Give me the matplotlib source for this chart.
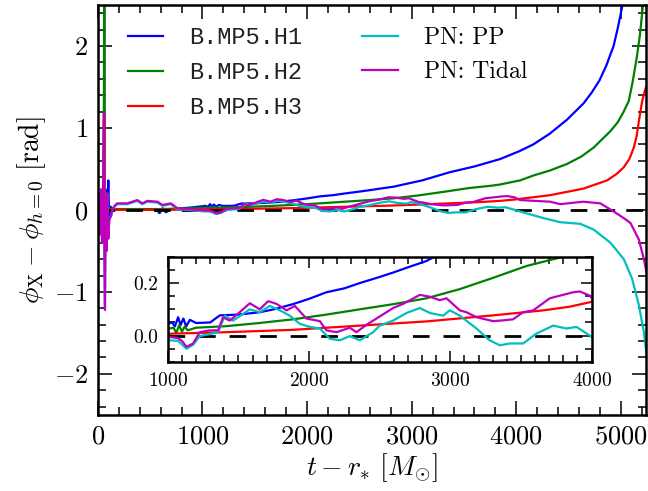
import numpy as np
import matplotlib.pyplot as plt
from matplotlib.ticker import MultipleLocator

plt.rcParams['font.family'] = 'serif'
plt.rcParams['font.serif'] = ['cmr10']
plt.rcParams['mathtext.fontset'] = 'cm'
plt.rcParams['axes.formatter.use_mathtext'] = True
plt.rcParams['axes.unicode_minus'] = True

# phase differences (t - r_* in M_sun, phi in rad)
t_h1 = [0, 15, 30, 45, 60, 75, 88, 100, 108, 120, 150, 250, 400, 560, 590, 620, 650, 700,
        800, 900, 1000, 1030, 1050, 1073, 1090, 1110, 1130, 1156, 1200, 1300, 1368, 1500,
        1651, 1750, 1887, 2000, 2123, 2250, 2359, 2480, 2595, 2700, 2831, 2886, 3100, 3365,
        3600, 3845, 4036, 4164, 4320, 4484, 4643, 4720, 4795, 4860, 4930, 4970, 5015, 5030]
phi_h1 = [0, 0.15, -0.1, 0.2, -0.05, 0.25, -0.15, 0.36, -0.12, 0.04, 0.01, 0.01, 0.01, 0.0,
          -0.04, 0.02, -0.03, 0.01, 0.02, 0.03, 0.045, 0.05, 0.035, 0.07, 0.04, 0.065, 0.035,
          0.06, 0.048, 0.05, 0.077, 0.08, 0.089, 0.10, 0.12, 0.14, 0.165, 0.18, 0.20, 0.22,
          0.24, 0.26, 0.284, 0.30, 0.36, 0.46, 0.53, 0.62, 0.72, 0.80, 0.93, 1.10, 1.30, 1.43,
          1.58, 1.76, 2.0, 2.22, 2.5, 2.7]

t_h2 = [0, 20, 40, 55, 62, 68, 80, 95, 110, 130, 160, 300, 600, 900, 1000, 1040, 1060, 1080,
        1100, 1120, 1140, 1200, 1415, 1650, 1887, 2123, 2359, 2600, 2831, 3067, 3303, 3539,
        3775, 3845, 4036, 4164, 4320, 4484, 4620, 4739, 4899, 4970, 5027, 5075, 5110, 5150,
        5180, 5211, 5230]
phi_h2 = [0, 0.1, -0.05, 0.15, 3.0, 0.1, 0.2, 0.05, 0.02, 0.01, 0.01, 0.01, 0.01, 0.02, 0.026,
          0.03, 0.01, 0.04, 0.015, 0.035, 0.02, 0.03, 0.036, 0.048, 0.062, 0.08, 0.10, 0.12,
          0.142, 0.177, 0.22, 0.265, 0.297, 0.31, 0.36, 0.42, 0.48, 0.56, 0.65, 0.76, 0.96,
          1.07, 1.20, 1.33, 1.55, 1.85, 2.12, 2.5, 2.8]

t_h3 = [0, 30, 50, 58, 62, 66, 75, 100, 150, 400, 800, 1000, 1415, 1887, 2359, 2831, 3303,
        3657, 3845, 3987, 4324, 4643, 4868, 4960, 5027, 5080, 5123, 5150, 5171, 5203, 5240]
phi_h3 = [0, 0.05, -0.05, 0.3, 1.15, 0.1, 0.0, 0.01, 0.0, 0.0, 0.003, 0.007, 0.013, 0.022,
          0.038, 0.054, 0.077, 0.096, 0.11, 0.127, 0.18, 0.26, 0.36, 0.44, 0.52, 0.62, 0.76,
          0.9, 1.08, 1.33, 1.5]

t_pp = [0, 10, 20, 30, 40, 50, 58, 63, 68, 75, 82, 90, 100, 110, 125, 140, 160, 185, 281, 377,
        425, 473, 569, 617, 697, 761, 857, 950, 1014, 1073, 1132, 1179, 1226, 1290, 1356, 1403,
        1462, 1580, 1651, 1722, 1793, 1863, 1934, 2005, 2076, 2147, 2217, 2288, 2359, 2453,
        2500, 2595, 2689, 2784, 2855, 2949, 2996, 3067, 3185, 3279, 3350, 3421, 3515, 3610,
        3728, 3822, 3893, 3987, 4036, 4260, 4420, 4612, 4739, 4899, 5027, 5107, 5171, 5219, 5245]
phi_pp = [0, 0.2, -0.3, 0.25, -0.4, 0.3, 1.1, -0.6, -1.15, 0.1, -0.5, 0.2, -0.35, -0.1, -0.08,
          0.0, 0.04, 0.07, 0.07, 0.11, 0.07, 0.10, 0.09, 0.05, 0.07, 0.01, 0.0, -0.01, -0.018,
          -0.02, -0.05, -0.035, -0.002, 0.005, 0.013, 0.076, 0.057, 0.10, 0.089, 0.113, 0.096,
          0.076, 0.045, 0.033, 0.027, -0.012, -0.018, -0.002, -0.018, 0.013, 0.038, 0.057,
          0.086, 0.105, 0.086, 0.076, 0.096, 0.076, 0.027, -0.018, -0.037, -0.03, -0.03, 0.008,
          0.038, 0.027, 0.033, 0.0, -0.02, -0.10, -0.15, -0.17, -0.24, -0.40, -0.60, -0.84,
          -1.16, -1.49, -1.77]

t_tidal = [0, 10, 20, 30, 40, 50, 58, 63, 68, 75, 82, 90, 100, 110, 125, 140, 160, 185, 281,
           377, 425, 473, 569, 617, 697, 761, 857, 950, 1014, 1073, 1100, 1132, 1179, 1226,
           1297, 1356, 1391, 1438, 1509, 1580, 1651, 1710, 1769, 1840, 1899, 1981, 2076, 2123,
           2194, 2288, 2335, 2406, 2477, 2595, 2666, 2784, 2855, 2925, 2973, 3067, 3114, 3185,
           3303, 3374, 3444, 3515, 3586, 3704, 3775, 3869, 3917, 3987, 4036, 4324, 4420, 4640,
           4803, 4931, 5027, 5091, 5171, 5219, 5245]
phi_tidal = [0, 0.2, -0.3, 0.25, -0.4, 0.3, 1.18, -0.6, -1.22, 0.1, -0.5, 0.2, -0.35, -0.1,
             -0.08, 0.0, 0.05, 0.08, 0.08, 0.12, 0.08, 0.11, 0.10, 0.06, 0.08, 0.02, 0.01, 0.0,
             -0.005, -0.01, -0.02, -0.043, -0.03, 0.013, 0.02, 0.02, 0.07, 0.057, 0.089, 0.123,
             0.10, 0.131, 0.121, 0.096, 0.113, 0.065, 0.055, 0.02, 0.013, 0.03, 0.013, 0.041,
             0.065, 0.105, 0.121, 0.155, 0.148, 0.135, 0.142, 0.096, 0.089, 0.07, 0.055, 0.058,
             0.062, 0.089, 0.096, 0.142, 0.152, 0.165, 0.168, 0.152, 0.12, 0.10, 0.07, 0.10,
             0.08, -0.02, -0.10, -0.16, -0.36, -0.60, -0.76]

series = [
    (t_h1, phi_h1, 'b', 'B.MP5.H1'),
    (t_h2, phi_h2, 'g', 'B.MP5.H2'),
    (t_h3, phi_h3, 'r', 'B.MP5.H3'),
    (t_pp, phi_pp, 'c', 'PN: PP'),
    (t_tidal, phi_tidal, 'm', 'PN: Tidal'),
]


def style_axes(ax, lw_spine, maj, mnr, size):
    for s in ax.spines.values():
        s.set_linewidth(lw_spine)
    ax.tick_params(which='both', direction='in', top=True, right=True, labelsize=size, pad=7)
    ax.tick_params(which='major', length=maj, width=1.1)
    ax.tick_params(which='minor', length=mnr, width=1.1)


fig = plt.figure(figsize=(6.48, 4.91), dpi=100)
ax = fig.add_axes([0.151, 0.155, 0.846, 0.835])

for t, phi, c, lab in series[:3]:
    ax.plot(t, phi, color=c, lw=1.6, label=lab)
ax.axhline(0, color='k', lw=2.0, ls=(0, (6, 4)))
for t, phi, c, lab in series[3:]:
    ax.plot(t, phi, color=c, lw=1.6, label=lab)

ax.set_xlim(0, 5240)
ax.set_ylim(-2.5, 2.5)
ax.xaxis.set_major_locator(MultipleLocator(1000))
ax.xaxis.set_minor_locator(MultipleLocator(200))
ax.yaxis.set_major_locator(MultipleLocator(1))
ax.yaxis.set_minor_locator(MultipleLocator(0.2))
style_axes(ax, 1.8, 10, 6, 19)
ax.set_xlabel(r'$t - r_{*}\ [M_{\odot}]$', fontsize=20, labelpad=2)
ax.set_ylabel(r'$\phi_{\rm X} - \phi_{h=0}\ [{\rm rad}]$', fontsize=20, labelpad=4)

leg = ax.legend(loc='upper left', bbox_to_anchor=(0.016, 1.0), ncol=2, frameon=False,
                fontsize=17, handlelength=1.5, handletextpad=1.1, columnspacing=2.55,
                labelspacing=0.5, borderaxespad=0.5)
for txt in leg.get_texts()[:3]:
    txt.set_family('Liberation Mono')
    txt.set_color('#222222')

# zoomed inset
axi = fig.add_axes([0.259, 0.263, 0.654, 0.214])
for t, phi, c, lab in series[:3]:
    axi.plot(t, phi, color=c, lw=1.6)
axi.axhline(0, color='k', lw=2.0, ls=(0, (6, 5)))
for t, phi, c, lab in series[3:]:
    axi.plot(t, phi, color=c, lw=1.6)
axi.set_xlim(1000, 4000)
axi.set_ylim(-0.1, 0.3)
axi.xaxis.set_major_locator(MultipleLocator(1000))
axi.xaxis.set_minor_locator(MultipleLocator(100))
axi.yaxis.set_major_locator(MultipleLocator(0.2))
axi.yaxis.set_minor_locator(MultipleLocator(0.05))
axi.yaxis.set_major_formatter(plt.FormatStrFormatter('%.1f'))
style_axes(axi, 1.8, 8, 5, 14)

fig.savefig('out.png', dpi=100)
